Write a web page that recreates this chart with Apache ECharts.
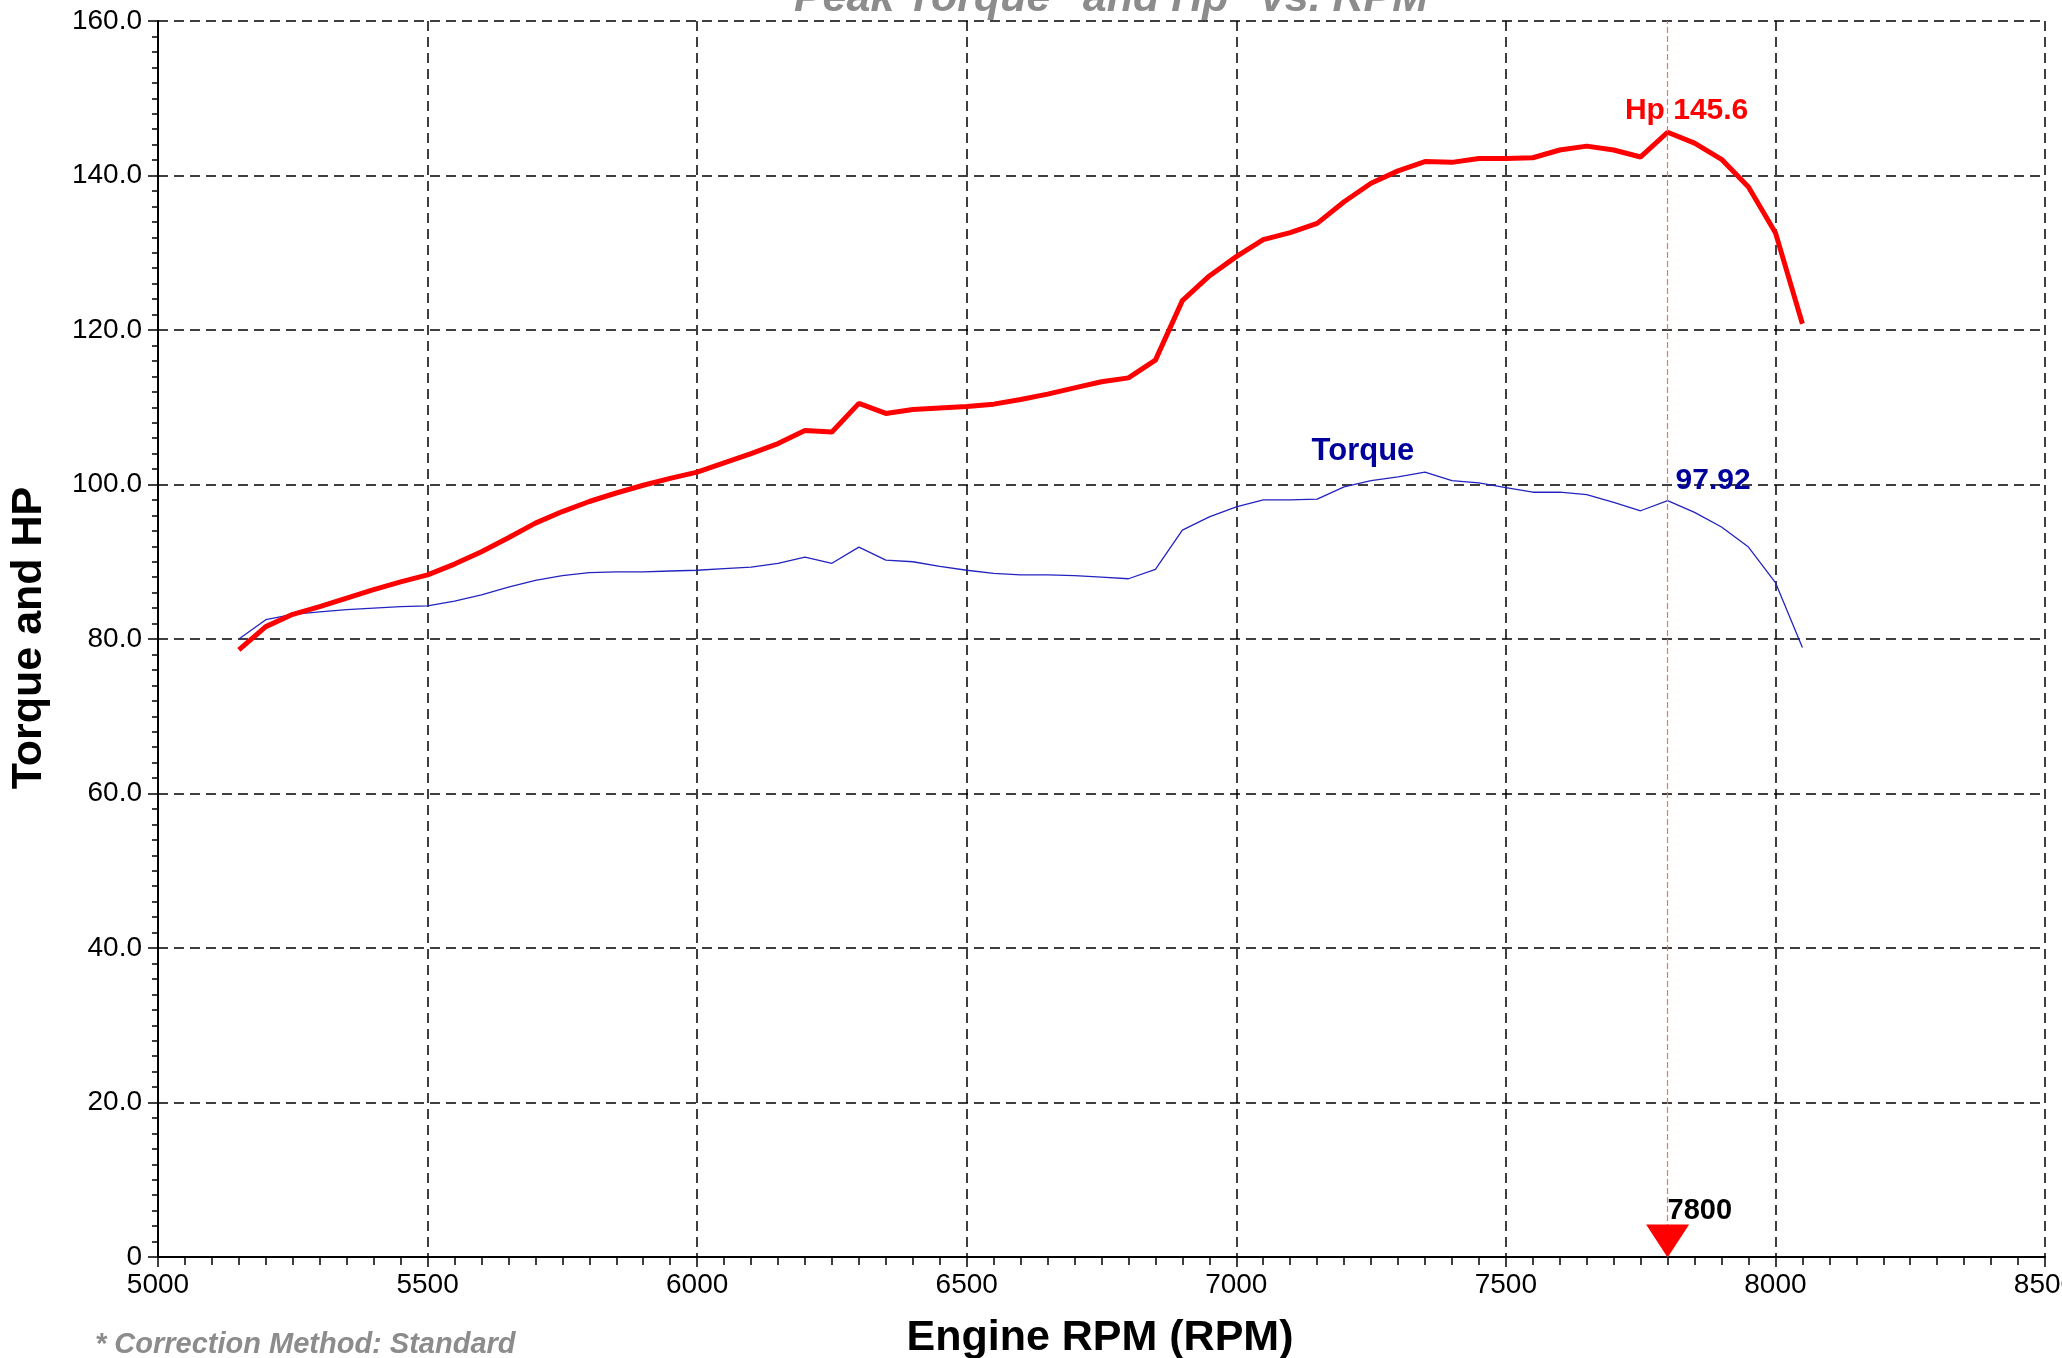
<!DOCTYPE html>
<html>
<head>
<meta charset="utf-8">
<script src="https://cdn.jsdelivr.net/npm/echarts@6/dist/echarts.min.js"></script>
<style>
html,body{margin:0;padding:0;background:#fff;}
#chart{width:2062px;height:1358px;}
</style>
</head>
<body>
<div id="chart"></div>
<script>
const rpm = [5150,5200,5250,5300,5350,5400,5450,5500,5550,5600,5650,5700,5750,5800,5850,5900,5950,6000,
  6050,6100,6150,6200,6250,6300,6350,6400,6450,6500,6550,6600,6650,6700,6750,6800,6850,6900,6950,7000,
  7050,7100,7150,7200,7250,7300,7350,7400,7450,7500,7550,7600,7650,7700,7750,7800,7850,7900,7950,8000,8050];
const hp = [78.6,81.6,83.2,84.2,85.3,86.4,87.4,88.3,89.7,91.3,93.1,95.0,96.5,97.8,98.9,99.9,100.8,101.6,
  102.8,104.0,105.3,107.0,106.8,110.5,109.2,109.7,109.9,110.1,110.4,111.0,111.7,112.5,113.3,113.8,116.1,123.8,127.0,129.5,
  131.7,132.6,133.8,136.6,139.0,140.6,141.8,141.7,142.2,142.2,142.3,143.3,143.8,143.3,142.4,145.6,144.2,142.1,138.5,132.6,120.8];
const torque = [80.0,82.5,83.2,83.5,83.8,84.0,84.2,84.3,84.9,85.7,86.7,87.6,88.2,88.6,88.7,88.7,88.8,88.9,
  89.1,89.3,89.8,90.6,89.8,91.9,90.2,90.0,89.4,88.9,88.5,88.3,88.3,88.2,88.0,87.8,89.0,94.1,95.8,97.1,
  98.0,98.0,98.1,99.7,100.5,101.0,101.6,100.5,100.2,99.6,99.0,99.0,98.7,97.7,96.6,97.92,96.4,94.5,91.9,87.3,78.9];
const peakRpm = 7800;
const peakHp = 145.6;
const peakTorqueAtPeak = 97.92;
const torqueLabelRpm = 7350;
const torqueLabelVal = 101.6;

const titleText = 'Peak Torque" and Hp" vs. RPM';
const xName = 'Engine RPM (RPM)';
const yName = 'Torque and HP';
const footnote = '* Correction Method: Standard';

const FONT = '"Liberation Sans", Arial, sans-serif';
const chart = echarts.init(document.getElementById('chart'));

const hpData = rpm.map((r, i) => [r, hp[i]]);
const tqData = rpm.map((r, i) => [r, torque[i]]);

chart.setOption({
  animation: false,
  backgroundColor: '#fff',
  title: {
    text: titleText,
    left: 1106, top: -27, textAlign: 'center',
    textStyle: {fontFamily: FONT, fontSize: 43, fontWeight: 'bold', fontStyle: 'italic', color: '#8c8c8c'}
  },
  grid: {left: 158, right: 17, top: 21, bottom: 101, containLabel: false, outerBoundsMode: 'none'},
  xAxis: {
    type: 'value', min: 5000, max: 8500, interval: 500,
    axisLine: {show: true, onZero: false, lineStyle: {color: '#000', width: 2}},
    axisTick: {show: true, length: 10, lineStyle: {color: '#000', width: 1.5}},
    minorTick: {show: true, splitNumber: 10, length: 8, lineStyle: {color: '#000', width: 1.5}},
    splitLine: {show: true, lineStyle: {color: '#000', width: 1.5, type: [10, 6]}},
    axisLabel: {show: true, margin: 14, fontFamily: FONT, fontSize: 28, color: '#000', showMaxLabel: true,
      formatter: v => String(v)}
  },
  yAxis: {
    type: 'value', min: 0, max: 160, interval: 20,
    axisLine: {show: true, onZero: false, lineStyle: {color: '#000', width: 2}},
    axisTick: {show: true, length: 10, lineStyle: {color: '#000', width: 1.5}},
    minorTick: {show: true, splitNumber: 10, length: 6, lineStyle: {color: '#000', width: 1.5}},
    splitLine: {show: true, lineStyle: {color: '#000', width: 1.5, type: [10, 6]}},
    axisLabel: {show: true, margin: 16, fontFamily: FONT, fontSize: 28, color: '#000',
      formatter: v => v === 0 ? '0' : v.toFixed(1)}
  },
  series: [
    {
      name: 'Torque', type: 'line', data: tqData, showSymbol: false, symbol: 'none',
      lineStyle: {color: '#2323c0', width: 1.3}, z: 3,
      markPoint: {
        symbol: 'circle', symbolSize: 0, silent: true,
        data: [
          {coord: [torqueLabelRpm, torqueLabelVal],
           label: {show: true, formatter: 'Torque', position: 'inside', offset: [-62, -21],
             fontFamily: FONT, fontSize: 31, fontWeight: 'bold', color: '#00009c'}},
          {coord: [peakRpm, peakTorqueAtPeak],
           label: {show: true, formatter: '97.92', position: 'inside', align: 'left', offset: [8, -20],
             fontFamily: FONT, fontSize: 30, fontWeight: 'bold', color: '#00009c'}}
        ]
      }
    },
    {
      name: 'Hp', type: 'line', data: hpData, showSymbol: false, symbol: 'none',
      lineStyle: {color: '#ff0000', width: 5}, z: 4,
      markLine: {
        silent: true, symbol: ['none', 'none'],
        label: {show: false},
        lineStyle: {color: '#ff6a6a', width: 1.2, type: [6, 3]},
        data: [{xAxis: peakRpm}]
      },
      markPoint: {
        silent: true,
        data: [
          {coord: [peakRpm, peakHp], symbol: 'circle', symbolSize: 0,
           label: {show: true, formatter: 'Hp 145.6', position: 'inside', offset: [19, -22],
             fontFamily: FONT, fontSize: 30, fontWeight: 'bold', color: '#ff0000'}},
          {coord: [peakRpm, 0], symbol: 'triangle', symbolRotate: 180, symbolSize: [43, 33],
           symbolOffset: [0, -16], itemStyle: {color: '#ff0000'},
           label: {show: true, formatter: String(peakRpm), position: 'inside', align: 'left',
             offset: [0, -30], fontFamily: FONT, fontSize: 29, fontWeight: 'bold', color: '#000'}}
        ]
      }
    }
  ],
  graphic: [
    {type: 'text', x: 29, y: 638, rotation: Math.PI / 2,
     style: {text: yName, font: 'bold 43px ' + FONT, fill: '#000',
       align: 'center', verticalAlign: 'middle', textAlign: 'center', textVerticalAlign: 'middle'}},
    {type: 'text', x: 1100, y: 1338,
     style: {text: xName, font: 'bold 43px ' + FONT, fill: '#000',
       align: 'center', verticalAlign: 'middle', textAlign: 'center', textVerticalAlign: 'middle'}},
    {type: 'text', x: 95, y: 1345,
     style: {text: footnote, font: 'italic bold 29px ' + FONT, fill: '#8c8c8c',
       align: 'left', verticalAlign: 'middle', textAlign: 'left', textVerticalAlign: 'middle'}}
  ]
});
</script>
</body>
</html>
